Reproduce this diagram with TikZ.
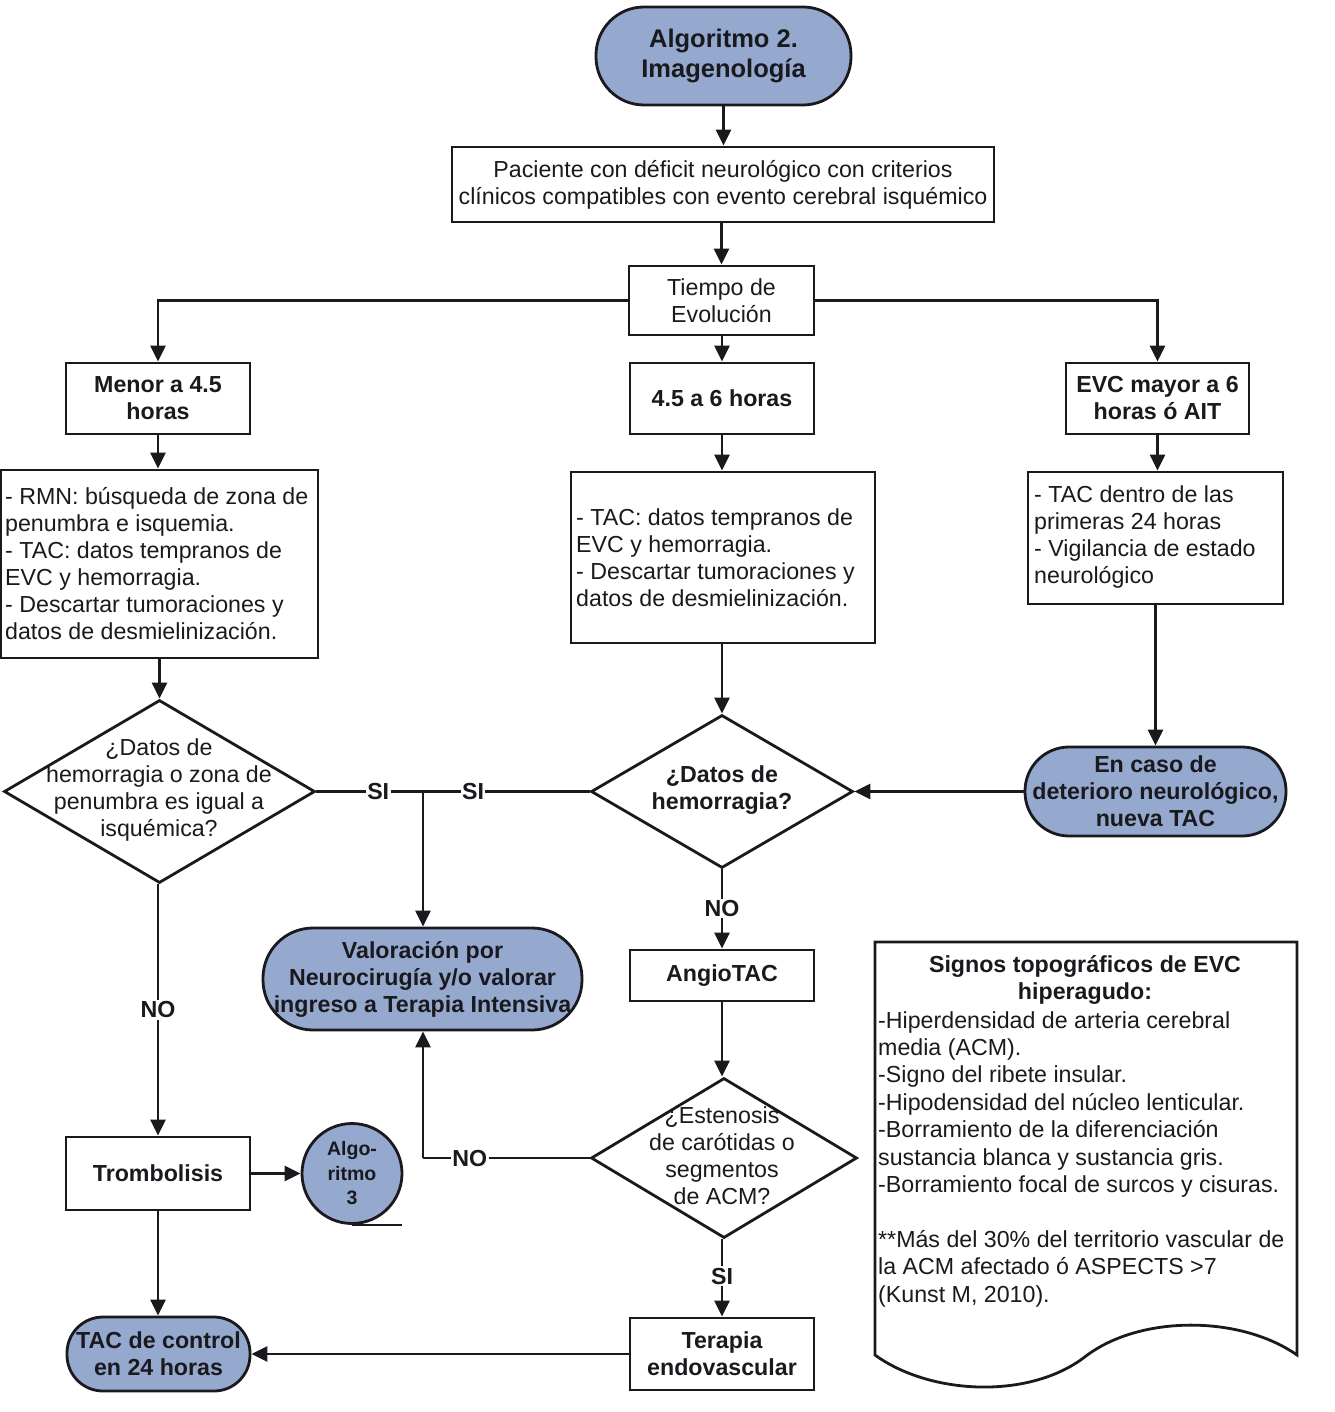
\documentclass[tikz,border=0pt]{standalone}
\usepackage{fontspec}
\setmainfont{Liberation Sans}
\usetikzlibrary{shapes.geometric,arrows.meta}
\definecolor{termfill}{RGB}{149,169,207}
\definecolor{ink}{RGB}{25,25,30}
\begin{document}
\begin{tikzpicture}[x=1pt,y=-1pt,
  every node/.style={font=\fontsize{23.2}{27}\selectfont, text=ink},
  ln/.style={line width=2.8pt, draw=ink},
  arr/.style={ln, -{Triangle[length=16pt,width=15pt]}},
  box/.style={draw=ink, line width=2.8pt, rectangle, inner sep=0pt, align=center},
  bbox/.style={box, font=\fontsize{23.2}{27}\selectfont\bfseries},
  termbox/.style={draw=ink, line width=2.8pt, fill=termfill, inner sep=0pt, align=center, font=\fontsize{23.2}{27}\selectfont\bfseries},
  dia/.style={draw=ink, line width=2.8pt, diamond, inner sep=0pt},
  lbl/.style={fill=white, inner sep=1.5pt, font=\fontsize{23.2}{27}\selectfont\bfseries}
]
\useasboundingbox (0,0) rectangle (1334,1412);

% top
\node[termbox, minimum width=255, minimum height=98, rounded corners=48, font=\fontsize{25.5}{30}\selectfont\bfseries] (start) at (723.5,56) {Algoritmo 2.\\Imagenología};
\node[box, minimum width=542, minimum height=75] (pac) at (723,184.5) {Paciente con déficit neurológico con criterios\\clínicos compatibles con evento cerebral isquémico};
\node[box, minimum width=185, minimum height=69] (tiempo) at (721.5,300.5) {Tiempo de\\Evolución};

% level 2
\node[bbox, minimum width=184, minimum height=71] (menor) at (158,398.5) {Menor a 4.5\\horas};
\node[bbox, minimum width=184, minimum height=71] (seis) at (722,398.5) {4.5 a 6 horas};
\node[bbox, minimum width=183, minimum height=71] (mayor) at (1157.5,398.5) {EVC mayor a 6\\horas ó AIT};

% text boxes
\node[box, minimum width=317, minimum height=188] (lt) at (159.5,564) {};
\node[anchor=west, align=left, inner sep=0pt] at (5,564) {- RMN: búsqueda de zona de\\penumbra e isquemia.\\- TAC: datos tempranos de\\EVC y hemorragia.\\- Descartar tumoraciones y\\datos de desmielinización.};
\node[box, minimum width=304, minimum height=171] (mt) at (723,557.5) {};
\node[anchor=west, align=left, inner sep=0pt] at (576,557.5) {- TAC: datos tempranos de\\EVC y hemorragia.\\- Descartar tumoraciones y\\datos de desmielinización.};
\node[box, minimum width=255, minimum height=132] (rt) at (1155.5,538) {};
\node[anchor=west, align=left, inner sep=0pt] at (1034,536.5) {- TAC dentro de las\\primeras 24 horas\\- Vigilancia de estado\\neurológico};

% diamonds row
\node[dia, minimum width=311, minimum height=183] (d1) at (159.5,791.5) {};
\node[align=center, inner sep=0pt] at (159,790) {¿Datos de\\hemorragia o zona de\\penumbra es igual a\\isquémica?};
\node[dia, minimum width=262, minimum height=153] (d2) at (722,791.5) {};
\node[align=center, inner sep=0pt, font=\fontsize{23.2}{27}\selectfont\bfseries] at (722,790) {¿Datos de\\hemorragia?};
\node[termbox, minimum width=261, minimum height=89, rounded corners=44] (encaso) at (1155.5,791.5) {En caso de\\deterioro neurológico,\\nueva TAC};

% middle
\node[termbox, minimum width=319, minimum height=102, rounded corners=50] (valor) at (422.5,979) {Valoración por\\Neurocirugía y/o valorar\\ingreso a Terapia Intensiva};
\node[bbox, minimum width=184, minimum height=51] (angio) at (722,975.5) {AngioTAC};
\node[dia, minimum width=266, minimum height=160] (d3) at (724,1158) {};
\node[align=center, inner sep=0pt] at (722,1155.5) {¿Estenosis\\de carótidas o\\segmentos\\de ACM?};

% bottom
\node[bbox, minimum width=184, minimum height=73] (trombo) at (158,1173.5) {Trombolisis};
\node[circle, draw=ink, line width=2.8pt, fill=termfill, minimum size=100, inner sep=0pt, align=center, font=\fontsize{19.5}{24.5}\selectfont\bfseries] (alg3) at (352,1173.5) {Algo-\\ritmo\\3};
\node[bbox, minimum width=184, minimum height=72] (terapia) at (722,1354) {Terapia\\endovascular};
\node[termbox, minimum width=183, minimum height=74, rounded corners=36] (tacc) at (158.5,1354) {TAC de control\\en 24 horas};

% document shape
\draw[ln] (875,942) -- (1297,942) -- (1297,1355)
  .. controls (1240,1315) and (1140,1315) .. (1086,1356)
  .. controls (1030,1400) and (930,1395) .. (875,1355) -- cycle;
\node[align=center, inner sep=0pt, font=\fontsize{23.2}{27}\selectfont\bfseries] (sigt) at (1085,980) {Signos topográficos de EVC\\hiperagudo:};
\node[anchor=west, align=left, inner sep=0pt, font=\fontsize{23.2}{27.4}\selectfont] (sigb) at (878,1159) {-Hiperdensidad de arteria cerebral\\media (ACM).\\-Signo del ribete insular.\\-Hipodensidad del núcleo lenticular.\\-Borramiento de la diferenciación\\sustancia blanca y sustancia gris.\\-Borramiento focal de surcos y cisuras.\\\mbox{}\\**Más del 30\% del territorio vascular de\\la ACM afectado ó ASPECTS >7\\(Kunst M, 2010).};

% connectors
\draw[arr] (start.south) -- (start.south |- pac.north);
\draw[arr] (pac.south -| tiempo.north) -- (tiempo.north);
\draw[arr] (tiempo.west) -| (menor.north);
\draw[arr] (tiempo.east) -| (mayor.north);
\draw[arr] (tiempo.south -| seis.north) -- (seis.north);
\draw[arr] (menor.south) -- (menor.south |- lt.north);
\draw[arr] (seis.south) -- (seis.south |- mt.north);
\draw[arr] (mayor.south) -- (mayor.south |- rt.north);
\draw[arr] (lt.south -| d1.north) -- (d1.north);
\draw[arr] (mt.south -| d2.north) -- (d2.north);
\draw[arr] (rt.south -| encaso.north) -- (encaso.north);
\draw[arr] (encaso.west) -- (d2.east);

\coordinate (j) at (423,791.5);
\draw[ln] (d1.east) -- node[lbl, pos=0.58]{SI} (j) -- node[lbl, pos=0.30]{SI} (d2.west);
\draw[arr] (j) -- (j |- valor.north);

\draw[arr] (d2.south) -- node[lbl, pos=0.49]{NO} (d2.south |- angio.north);
\draw[arr] (angio.south) -- (angio.south |- d3.north);

\coordinate (k) at (423,1158);
\draw[ln] (d3.west) -- node[lbl, pos=0.72]{NO} (k);
\draw[arr] (k) -- (k |- valor.south);

\draw[arr] (d3.south -| terapia.north) -- node[lbl, pos=0.475]{SI} (terapia.north);
\draw[arr] (terapia.west) -- (terapia.west -| tacc.east);

\draw[arr] (d1.south -| trombo.north) -- node[lbl, pos=0.5]{NO} (trombo.north);
\draw[arr] (trombo.east) -- (alg3.west);
\draw[arr] (trombo.south) -- (trombo.south |- tacc.north);
\draw[ln] (alg3.south) -- ++(50,0);
\end{tikzpicture}
\end{document}
